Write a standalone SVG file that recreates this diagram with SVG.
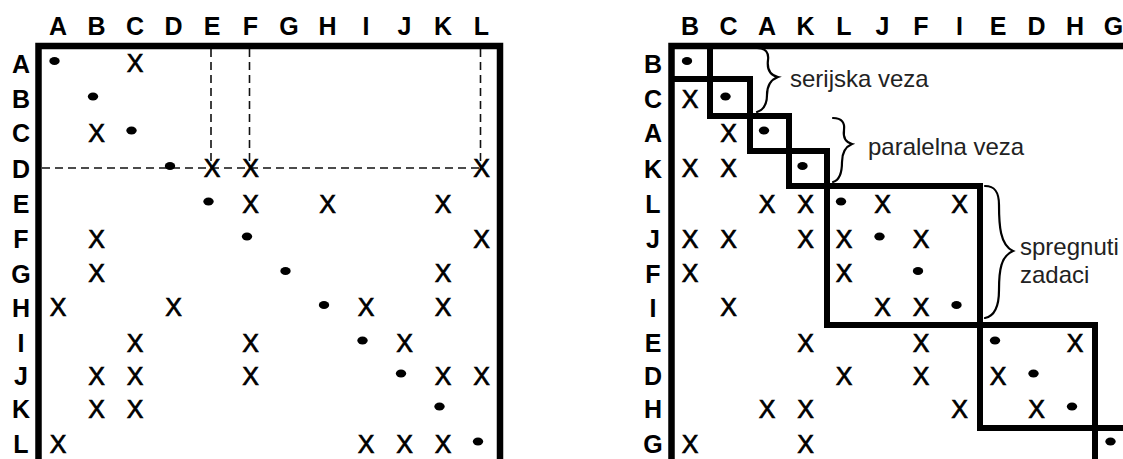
<svg xmlns="http://www.w3.org/2000/svg" width="1123" height="459" viewBox="0 0 1123 459">
<style>
.lbl{font-family:"Liberation Sans",Arial,sans-serif;font-weight:bold;font-size:25px;fill:#000;text-anchor:middle}
.x{font-family:"Liberation Sans",Arial,sans-serif;font-size:25px;fill:#000;stroke:#000;stroke-width:0.7;text-anchor:middle}
.note{font-family:"Liberation Sans",Arial,sans-serif;font-size:24px;fill:#222}
.frame{fill:none;stroke:#000;stroke-width:6.5;stroke-linejoin:miter}
.box{fill:none;stroke:#000;stroke-width:6;stroke-linejoin:miter}
.dash{fill:none;stroke:#111;stroke-width:1.6;stroke-dasharray:8 5}
.brace{fill:none;stroke:#000;stroke-width:2.2;stroke-linecap:round}
</style>
<defs>
<ellipse id="dot" cx="0" cy="0" rx="5.2" ry="4" fill="#000"/>
</defs>
<rect width="1123" height="459" fill="#fff"/>

<g id="left-matrix">
<g id="left-col-labels">
<text class="lbl" x="58" y="35">A</text><text class="lbl" x="96.5" y="35">B</text><text class="lbl" x="135" y="35">C</text><text class="lbl" x="173.5" y="35">D</text><text class="lbl" x="212" y="35">E</text><text class="lbl" x="250.5" y="35">F</text><text class="lbl" x="289" y="35">G</text><text class="lbl" x="327.5" y="35">H</text><text class="lbl" x="366" y="35">I</text><text class="lbl" x="404.5" y="35">J</text><text class="lbl" x="443" y="35">K</text><text class="lbl" x="481.5" y="35">L</text>
</g>
<g id="left-row-labels">
<text class="lbl" x="21" y="72.5">A</text><text class="lbl" x="21" y="108">B</text><text class="lbl" x="21" y="142">C</text><text class="lbl" x="21" y="177.5">D</text><text class="lbl" x="21" y="213">E</text><text class="lbl" x="21" y="248">F</text><text class="lbl" x="21" y="282.5">G</text><text class="lbl" x="21" y="316.5">H</text><text class="lbl" x="21" y="352">I</text><text class="lbl" x="21" y="385">J</text><text class="lbl" x="21" y="418">K</text><text class="lbl" x="21" y="453">L</text>
</g>
<g id="left-dashes">
<path class="dash" d="M211 49 V168 M249.5 49 V168 M480.5 49 V168 M42 168 H480"/>
</g>
<path id="left-frame" class="frame" d="M38.5 459 V46 H500 V459"/>
<g id="left-dots">
<use href="#dot" x="54.5" y="61"/><use href="#dot" x="93" y="96.5"/><use href="#dot" x="131.5" y="130.5"/><use href="#dot" x="170" y="166"/><use href="#dot" x="208.5" y="201.5"/><use href="#dot" x="247" y="236.5"/><use href="#dot" x="285.5" y="271"/><use href="#dot" x="324" y="305"/><use href="#dot" x="362.5" y="340.5"/><use href="#dot" x="401" y="373.5"/><use href="#dot" x="439.5" y="406.5"/><use href="#dot" x="478" y="441.5"/>
</g>
<g id="left-x">
<text class="x" x="135" y="72">X</text>
<text class="x" x="96.5" y="141.5">X</text>
<text class="x" x="212" y="177">X</text><text class="x" x="250.5" y="177">X</text><text class="x" x="481.5" y="177">X</text>
<text class="x" x="250.5" y="212.5">X</text><text class="x" x="327.5" y="212.5">X</text><text class="x" x="443" y="212.5">X</text>
<text class="x" x="96.5" y="247.5">X</text><text class="x" x="481.5" y="247.5">X</text>
<text class="x" x="96.5" y="282">X</text><text class="x" x="443" y="282">X</text>
<text class="x" x="58" y="316">X</text><text class="x" x="173.5" y="316">X</text><text class="x" x="366" y="316">X</text><text class="x" x="443" y="316">X</text>
<text class="x" x="135" y="351.5">X</text><text class="x" x="250.5" y="351.5">X</text><text class="x" x="404.5" y="351.5">X</text>
<text class="x" x="96.5" y="384.5">X</text><text class="x" x="135" y="384.5">X</text><text class="x" x="250.5" y="384.5">X</text><text class="x" x="443" y="384.5">X</text><text class="x" x="481.5" y="384.5">X</text>
<text class="x" x="96.5" y="417.5">X</text><text class="x" x="135" y="417.5">X</text>
<text class="x" x="58" y="452.5">X</text><text class="x" x="366" y="452.5">X</text><text class="x" x="404.5" y="452.5">X</text><text class="x" x="443" y="452.5">X</text>
</g>
</g>

<g id="right-matrix">
<g id="right-col-labels">
<text class="lbl" x="690" y="35">B</text><text class="lbl" x="728.5" y="35">C</text><text class="lbl" x="767" y="35">A</text><text class="lbl" x="805.5" y="35">K</text><text class="lbl" x="844" y="35">L</text><text class="lbl" x="882.5" y="35">J</text><text class="lbl" x="921" y="35">F</text><text class="lbl" x="959.5" y="35">I</text><text class="lbl" x="998" y="35">E</text><text class="lbl" x="1036.5" y="35">D</text><text class="lbl" x="1075" y="35">H</text><text class="lbl" x="1113.5" y="35">G</text>
</g>
<g id="right-row-labels">
<text class="lbl" x="653" y="72.5">B</text><text class="lbl" x="653" y="108">C</text><text class="lbl" x="653" y="142">A</text><text class="lbl" x="653" y="177.5">K</text><text class="lbl" x="653" y="213">L</text><text class="lbl" x="653" y="248">J</text><text class="lbl" x="653" y="282.5">F</text><text class="lbl" x="653" y="316.5">I</text><text class="lbl" x="653" y="352">E</text><text class="lbl" x="653" y="385">D</text><text class="lbl" x="653" y="418">H</text><text class="lbl" x="653" y="453">G</text>
</g>
<path id="right-frame" class="frame" d="M671.5 459 V46 H1123"/>
<g id="blocks">
<polyline class="box" points="710,46 710,79 750,79 750,116 789,116 789,151 827,151 827,186 980,186 980,325 1095,325 1095,428 1126,428"/>
<polyline class="box" points="671,79 710,79 710,116 750,116 750,151 789,151 789,186 827,186 827,325 980,325 980,428 1095,428 1095,462"/>
</g>
<g id="right-dots">
<use href="#dot" x="687" y="61"/><use href="#dot" x="725.5" y="96.5"/><use href="#dot" x="764" y="130.5"/><use href="#dot" x="802.5" y="166"/><use href="#dot" x="841" y="201.5"/><use href="#dot" x="879.5" y="236.5"/><use href="#dot" x="918" y="271"/><use href="#dot" x="956.5" y="305"/><use href="#dot" x="995" y="340.5"/><use href="#dot" x="1033.5" y="373.5"/><use href="#dot" x="1072" y="406.5"/><use href="#dot" x="1110.5" y="441.5"/>
</g>
<g id="right-x">
<text class="x" x="690" y="107.5">X</text>
<text class="x" x="728.5" y="141.5">X</text>
<text class="x" x="690" y="177">X</text><text class="x" x="728.5" y="177">X</text>
<text class="x" x="767" y="212.5">X</text><text class="x" x="805.5" y="212.5">X</text><text class="x" x="882.5" y="212.5">X</text><text class="x" x="959.5" y="212.5">X</text>
<text class="x" x="690" y="247.5">X</text><text class="x" x="728.5" y="247.5">X</text><text class="x" x="805.5" y="247.5">X</text><text class="x" x="844" y="247.5">X</text><text class="x" x="921" y="247.5">X</text>
<text class="x" x="690" y="282">X</text><text class="x" x="844" y="282">X</text>
<text class="x" x="728.5" y="316">X</text><text class="x" x="882.5" y="316">X</text><text class="x" x="921" y="316">X</text>
<text class="x" x="805.5" y="351.5">X</text><text class="x" x="921" y="351.5">X</text><text class="x" x="1075" y="351.5">X</text>
<text class="x" x="844" y="384.5">X</text><text class="x" x="921" y="384.5">X</text><text class="x" x="998" y="384.5">X</text>
<text class="x" x="767" y="417.5">X</text><text class="x" x="805.5" y="417.5">X</text><text class="x" x="959.5" y="417.5">X</text><text class="x" x="1036.5" y="417.5">X</text>
<text class="x" x="690" y="452.5">X</text><text class="x" x="805.5" y="452.5">X</text>
</g>
<g id="note-serijska">
<path class="brace" d="M757 48 C766 48 769 53 768 60 C767 68 769 75 778 77 C770 80 767 86 767 95 C767 104 763 110 757 112"/>
<text class="note" x="790" y="87">serijska veza</text>
</g>
<g id="note-paralelna">
<path class="brace" d="M833 118 C842 118 845 123 844 130 C843 137 845 142 852 144 C845 147 842 153 842 162 C842 172 840 180 833 182"/>
<text class="note" x="868" y="155">paralelna veza</text>
</g>
<g id="note-spregnuti">
<path class="brace" d="M985 186 C995 186 999 192 999 205 C999 225 1000 245 1013 251 C1001 256 999 270 999 290 C999 305 995 316 985 318"/>
<text class="note" x="1020" y="255">spregnuti</text>
<text class="note" x="1020" y="283">zadaci</text>
</g>
</g>
</svg>
